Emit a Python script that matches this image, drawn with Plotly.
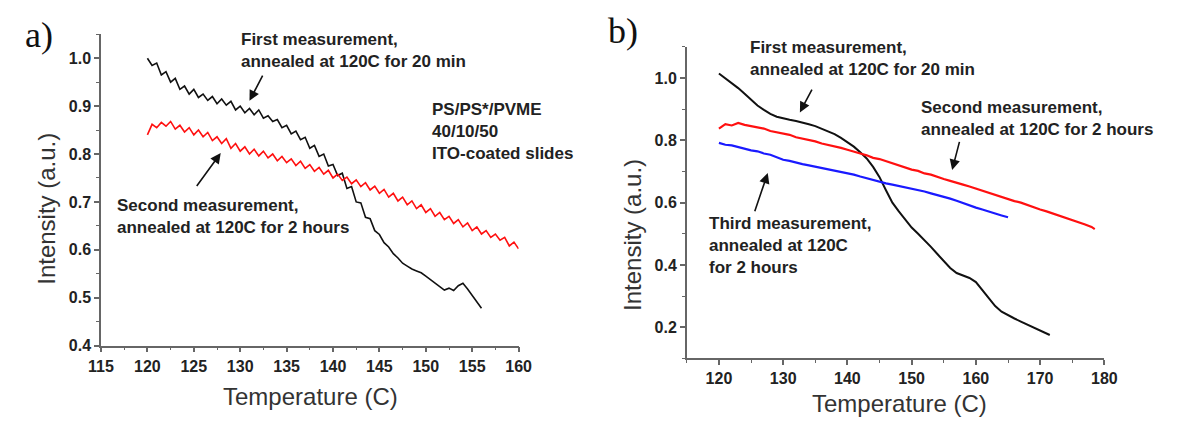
import plotly.graph_objects as go

# ---------------- Panel a data ----------------
a_black_x = [120 + 0.5 * i for i in range(73)]
a_black_y = [1.000, 0.985, 0.990, 0.965, 0.972, 0.950, 0.958, 0.935, 0.942, 0.925,
             0.935, 0.918, 0.925, 0.912, 0.920, 0.905, 0.915, 0.902, 0.910, 0.892,
             0.900, 0.886, 0.895, 0.882, 0.892, 0.875, 0.880, 0.868, 0.872, 0.855,
             0.860, 0.842, 0.848, 0.830, 0.835, 0.812, 0.818, 0.795, 0.800, 0.775,
             0.778, 0.755, 0.760, 0.728, 0.732, 0.700, 0.698, 0.668, 0.665, 0.640,
             0.632, 0.615, 0.606, 0.592, 0.583, 0.572, 0.566, 0.560, 0.556, 0.552,
             0.545, 0.538, 0.530, 0.524, 0.516, 0.520, 0.515, 0.525, 0.530, 0.518,
             0.505, 0.490, 0.478]

a_red_x = [120 + 0.5 * i for i in range(81)]
a_red_y = [0.840, 0.862, 0.855, 0.866, 0.858, 0.868, 0.852, 0.860, 0.846, 0.855,
           0.840, 0.850, 0.836, 0.845, 0.828, 0.836, 0.822, 0.832, 0.812, 0.822,
           0.806, 0.815, 0.800, 0.810, 0.796, 0.806, 0.792, 0.800, 0.786, 0.795,
           0.782, 0.790, 0.776, 0.785, 0.770, 0.778, 0.764, 0.772, 0.758, 0.766,
           0.750, 0.758, 0.745, 0.752, 0.738, 0.746, 0.732, 0.740, 0.725, 0.733,
           0.718, 0.726, 0.710, 0.718, 0.702, 0.710, 0.694, 0.702, 0.686, 0.694,
           0.678, 0.686, 0.670, 0.678, 0.663, 0.670, 0.655, 0.663, 0.648, 0.656,
           0.640, 0.648, 0.633, 0.640, 0.626, 0.633, 0.620, 0.626, 0.608, 0.616,
           0.602]

# ---------------- Panel b data ----------------
b_black_x = list(range(120, 172)) + [171.5]
b_black_y = [1.015, 1.000, 0.985, 0.968, 0.950, 0.932, 0.912, 0.898, 0.885, 0.876,
             0.870, 0.866, 0.862, 0.858, 0.852, 0.846, 0.838, 0.830, 0.820, 0.808,
             0.795, 0.780, 0.762, 0.742, 0.715, 0.682, 0.640, 0.600, 0.572, 0.545,
             0.520, 0.500, 0.480, 0.458, 0.435, 0.412, 0.390, 0.374, 0.366, 0.358,
             0.345, 0.320, 0.292, 0.268, 0.250, 0.238, 0.228, 0.218, 0.208, 0.198,
             0.190, 0.180, 0.175]

b_red_x = list(range(120, 179)) + [178.5]
b_red_y = [0.838, 0.852, 0.848, 0.856, 0.850, 0.846, 0.840, 0.838, 0.830, 0.826,
           0.820, 0.818, 0.810, 0.806, 0.800, 0.797, 0.790, 0.786, 0.780, 0.776,
           0.770, 0.765, 0.758, 0.752, 0.744, 0.740, 0.733, 0.728, 0.720, 0.714,
           0.706, 0.702, 0.694, 0.690, 0.682, 0.676, 0.670, 0.665, 0.658, 0.652,
           0.645, 0.638, 0.632, 0.625, 0.618, 0.612, 0.605, 0.600, 0.592, 0.586,
           0.578, 0.572, 0.565, 0.560, 0.552, 0.546, 0.538, 0.530, 0.522, 0.515]

b_blue_x = list(range(120, 166))
b_blue_y = [0.792, 0.786, 0.784, 0.778, 0.774, 0.768, 0.765, 0.758, 0.754, 0.745,
            0.738, 0.734, 0.728, 0.724, 0.720, 0.716, 0.712, 0.707, 0.702, 0.698,
            0.694, 0.690, 0.684, 0.678, 0.673, 0.668, 0.662, 0.658, 0.654, 0.650,
            0.646, 0.641, 0.636, 0.630, 0.625, 0.620, 0.613, 0.606, 0.598, 0.591,
            0.584, 0.578, 0.571, 0.565, 0.559, 0.553]

a_xticks = [115, 120, 125, 130, 135, 140, 145, 150, 155, 160]
a_yticks = [0.4, 0.5, 0.6, 0.7, 0.8, 0.9, 1.0]
b_xticks = [120, 130, 140, 150, 160, 170, 180]
b_yticks = [0.2, 0.4, 0.6, 0.8, 1.0]

W, H = 1179, 430
BLACK, RED, BLUE = "#111111", "#ff1010", "#1a1aff"
AXC = "#666666"
TXT = "#222222"
SANS = "Liberation Sans, Arial, sans-serif"
SERIF = "Liberation Serif, Times New Roman, serif"

fig = go.Figure()
fig.add_trace(go.Scatter(x=a_black_x, y=a_black_y, mode="lines", line=dict(color=BLACK, width=1.6),
                         xaxis="x", yaxis="y", showlegend=False))
fig.add_trace(go.Scatter(x=a_red_x, y=a_red_y, mode="lines", line=dict(color=RED, width=1.6),
                         xaxis="x", yaxis="y", showlegend=False))
fig.add_trace(go.Scatter(x=b_black_x, y=b_black_y, mode="lines", line=dict(color=BLACK, width=2),
                         xaxis="x2", yaxis="y2", showlegend=False))
fig.add_trace(go.Scatter(x=b_red_x, y=b_red_y, mode="lines", line=dict(color=RED, width=2.2),
                         xaxis="x2", yaxis="y2", showlegend=False))
fig.add_trace(go.Scatter(x=b_blue_x, y=b_blue_y, mode="lines", line=dict(color=BLUE, width=2.2),
                         xaxis="x2", yaxis="y2", showlegend=False))

def ax(domain, rng, ticks, minor_dtick, anchor, fmt=None):
    d = dict(domain=domain, range=rng, anchor=anchor, showline=True, linecolor=AXC, linewidth=1.5,
             ticks="outside", ticklen=5, tickwidth=1.5, tickcolor=AXC,
             tickmode="array", tickvals=ticks,
             minor=dict(ticks="outside", ticklen=3, tickwidth=1.2, tickcolor=AXC, dtick=minor_dtick,
                        showgrid=False),
             showgrid=False, zeroline=False, mirror=False,
             tickfont=dict(family=SANS, size=16, color=TXT, weight="bold"))
    if fmt:
        d["tickformat"] = fmt
    return d

fig.update_layout(
    width=W, height=H, margin=dict(l=0, r=0, t=0, b=0),
    paper_bgcolor="white", plot_bgcolor="white",
    xaxis=ax([90 / W, 517 / W], [115, 160], a_xticks, 2.5, "y"),
    yaxis=ax([1 - 353 / H, 1 - 35 / H], [0.4, 1.05], a_yticks, 0.05, "x", ".1f"),
    xaxis2=ax([689 / W, 1116 / W], [115, 180], b_xticks, 5, "y2"),
    yaxis2=ax([1 - 366 / H, 1 - 48 / H], [0.1, 1.1], b_yticks, 0.1, "x2", ".1f"),
)

annots = []
lab = dict(family=SANS, size=17, color=TXT, weight="bold")

def txt(x, y, text, xr, yr):
    annots.append(dict(x=x, y=y, xref=xr, yref=yr, text=text, showarrow=False,
                       xanchor="left", yanchor="middle", align="left", font=lab))

def arrow(x, y, axv, ayv, xr, yr):
    annots.append(dict(x=x, y=y, ax=axv, ay=ayv, xref=xr, yref=yr, axref=xr, ayref=yr,
                       text="", showarrow=True, arrowhead=2, arrowsize=1.3, arrowwidth=1.6,
                       arrowcolor="#111111", standoff=0, startstandoff=0))

# panel a
txt(129.9, 1.016, "First measurement,<br>annealed at 120C for 20 min", "x", "y")
txt(150.5, 0.846, "PS/PS*/PVME<br>40/10/50<br>ITO-coated slides", "x", "y")
txt(116.5, 0.670, "Second measurement,<br>annealed at 120C for 2 hours", "x", "y")
arrow(131.0, 0.911, 132.5, 0.967, "x", "y")
arrow(127.9, 0.802, 125.2, 0.730, "x", "y")

# panel b
txt(124.5, 1.064, "First measurement,<br>annealed at 120C for 20 min", "x2", "y2")
txt(167.6, 1.116, "PS/PS*/PVME<br>40/10/50<br>ITO-coated slides", "x2", "y2")
txt(151.2, 0.871, "Second measurement,<br>annealed at 120C for 2 hours", "x2", "y2")
txt(118.2, 0.463, "Third measurement,<br>annealed at 120C<br>for 2 hours", "x2", "y2")
arrow(132.6, 0.890, 134.6, 0.968, "x2", "y2")
arrow(156.3, 0.705, 157.5, 0.800, "x2", "y2")
arrow(127.6, 0.695, 125.5, 0.568, "x2", "y2")

# axis titles and panel letters
title_font = dict(family=SANS, size=24, color="#333333")
def ptxt(px, py, text, font, angle=0):
    annots.append(dict(x=px / W, y=1 - py / H, xref="paper", yref="paper", text=text,
                       showarrow=False, xanchor="center", yanchor="middle", font=font,
                       textangle=angle))

ptxt(304, 405, "Temperature (C)", title_font)
ptxt(34, 213, "Intensity (a.u.)", title_font, -90)
ptxt(907, 412, "Temperature (C)", title_font)
ptxt(634, 240, "Intensity (a.u.)", title_font, -90)
ptxt(27, 36, "a)", dict(family=SERIF, size=36, color="#111111"))
ptxt(624, 32, "b)", dict(family=SERIF, size=36, color="#111111"))

fig.update_layout(annotations=annots)
fig.write_html("out.html")
